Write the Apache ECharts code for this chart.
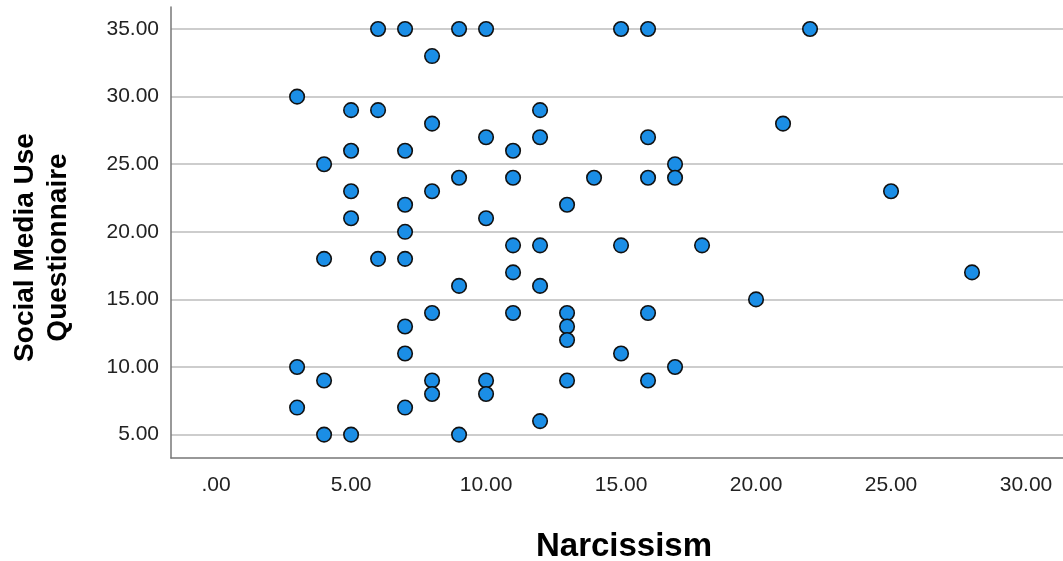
<!DOCTYPE html>
<html>
<head>
<meta charset="utf-8">
<script src="https://cdn.jsdelivr.net/npm/echarts@6/dist/echarts.min.js"></script>
<style>
  html, body { margin: 0; padding: 0; background: #fff; }
  #main { width: 1063px; height: 561px; }
</style>
</head>
<body>
<div id="main"></div>
<script>
// values
const narcissism = [
  6, 7, 9, 10, 15, 16, 22,
  8,
  3,
  5, 6, 12,
  8, 21,
  10, 12, 16,
  5, 7, 11,
  4, 17,
  9, 11, 14, 16, 17,
  5, 8, 25,
  7, 13,
  5, 10,
  7,
  11, 12, 15, 18,
  4, 6, 7,
  11, 28,
  9, 12,
  20,
  8, 11, 13, 16,
  7, 13,
  13,
  7, 15,
  3, 17,
  4, 8, 10, 13, 16,
  8, 10,
  3, 7,
  12,
  4, 5, 9
];
const socialMedia = [
  35, 35, 35, 35, 35, 35, 35,
  33,
  30,
  29, 29, 29,
  28, 28,
  27, 27, 27,
  26, 26, 26,
  25, 25,
  24, 24, 24, 24, 24,
  23, 23, 23,
  22, 22,
  21, 21,
  20,
  19, 19, 19, 19,
  18, 18, 18,
  17, 17,
  16, 16,
  15,
  14, 14, 14, 14,
  13, 13,
  12,
  11, 11,
  10, 10,
  9, 9, 9, 9, 9,
  8, 8,
  7, 7,
  6,
  5, 5, 5
];
const xTicks = [0, 5, 10, 15, 20, 25, 30];
const yTicks = [5, 10, 15, 20, 25, 30, 35];

const points = narcissism.map((x, i) => [x, socialMedia[i]]);

function fmt(v) {
  // SPSS style: 0 -> ".00"
  return v === 0 ? '.00' : v.toFixed(2);
}

const chart = echarts.init(document.getElementById('main'));
const option = {
  backgroundColor: '#fff',
  animation: false,
  textStyle: { fontFamily: 'Liberation Sans, Arial, sans-serif' },
  grid: { left: 171, right: 0, top: 7, bottom: 103, outerBoundsMode: 'none' },
  xAxis: {
    type: 'value',
    min: -1.67,
    max: 31.37,
    name: 'Narcissism',
    nameLocation: 'middle',
    nameGap: 72,
    nameTextStyle: {
      fontSize: 33, fontWeight: 'bold', color: '#000',
      padding: [0, 0, 0, 14]
    },
    axisLine: { show: true, onZero: false, lineStyle: { color: '#777', width: 1.5 } },
    axisTick: { show: false, customValues: xTicks },
    splitLine: { show: false },
    axisLabel: {
      customValues: xTicks,
      formatter: fmt,
      fontSize: 21,
      color: '#222',
      margin: 17
    }
  },
  yAxis: {
    type: 'value',
    min: 3.27,
    max: 36.63,
    name: 'Social Media Use\nQuestionnaire',
    nameLocation: 'middle',
    nameRotate: 90,
    nameGap: 96,
    nameTextStyle: {
      fontSize: 28, fontWeight: 'bold', color: '#000',
      lineHeight: 33, align: 'center',
      padding: [0, 30, 0, 0]
    },
    axisLine: { show: true, onZero: false, lineStyle: { color: '#777', width: 1.5 } },
    axisTick: { show: false, customValues: yTicks },
    splitLine: { show: true, lineStyle: { color: '#bdbdbd', width: 1.6 } },
    axisLabel: {
      customValues: yTicks,
      formatter: fmt,
      fontSize: 21,
      color: '#222',
      margin: 12
    }
  },
  series: [
    {
      type: 'scatter',
      data: points,
      symbol: 'circle',
      symbolSize: 14.5,
      itemStyle: {
        color: '#1b8ee6',
        borderColor: '#111',
        borderWidth: 1.6,
        opacity: 1
      }
    }
  ]
};
chart.setOption(option);
window.addEventListener('resize', () => { chart.resize(); });
</script>
</body>
</html>
